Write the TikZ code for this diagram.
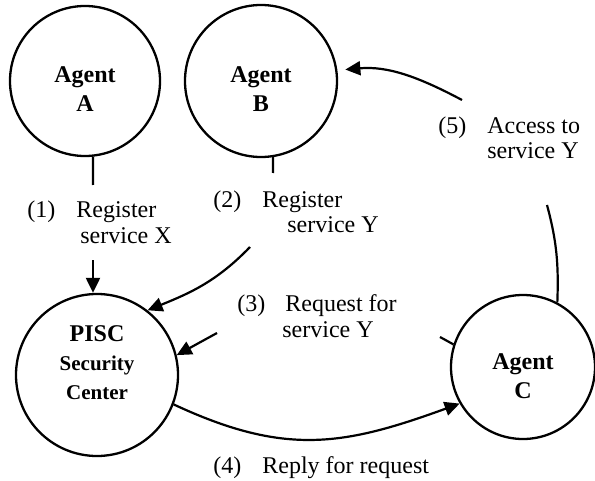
\documentclass[tikz,border=0pt]{standalone}
\usepackage{fontspec}
\setmainfont{Liberation Serif}
\usetikzlibrary{arrows.meta}

\begin{document}
\begin{tikzpicture}[
    x=0.5pt, y=-0.5pt,
    agent/.style={circle, draw, line width=1.15pt, inner sep=0pt, align=center, text height=31pt, text depth=0pt, font={\bfseries\fontsize{12}{14.5}\selectfont}},
    lbl/.style={anchor=base west, inner sep=0pt, align=left, font={\fontsize{12}{13}\selectfont}},
    link/.style={line width=1.1pt},
    arrow/.style={link, -{Triangle[length=7.5pt,width=7pt]}},
]
\useasboundingbox (0,0) rectangle (595,481);

% Agents and the security center
\node[agent, minimum size=75pt] (A) at (85,81)   {Agent\\A};
\node[agent, minimum size=76pt] (B) at (261,81)  {Agent\\B};
\node[agent, minimum size=81pt, text height=24pt] (P) at (97,375) {PISC\\{\fontsize{10.5}{12}\selectfont Security}\\{\fontsize{10.5}{12}\selectfont Center}};
\node[agent, minimum size=72pt] (C) at (523,367) {Agent\\C};

% Gaps in the connectors around the labels
\coordinate (c1a) at (93,185);
\coordinate (c1b) at (93,260);
\coordinate (c2a) at (273,173);
\coordinate (c2b) at (250,247);
\coordinate (c3a) at (440,337);
\coordinate (c3b) at (217,333);
\coordinate (c5a) at (547,205);
\coordinate (c5b) at (462,100);

% (1) and (2): register
\draw[link]  (A.-84) -- (c1a);
\draw[arrow] (c1b) -- (c1b |- P.north);
\draw[link]  (B.-81) -- (c2a);
\draw[arrow] (c2b) to[out=226, in=22] (P.52);

% (3) request, (4) reply
\draw[link]  (C.162) -- (c3a);
\draw[arrow] (c3b) -- (P.14);
\draw[arrow] (P.-21) to[out=-25, in=200, looseness=1.1] (C.210);

% (5) access
\draw[link]  (C.62) to[out=88, in=-75] (c5a);
\draw[arrow, shorten >=4pt] (c5b) to[out=152, in=5] (B.8);

% Labels (anchored on the baseline of the last line)
\node[lbl] (l1) at (27,243)  {\makebox[24.5pt][l]{(1)}Register\\\hspace*{26.5pt}service X};
\node[lbl] (l2) at (213,233) {\makebox[24.5pt][l]{(2)}Register\\\hspace*{37pt}service Y};
\node[lbl] (l3) at (237,337) {\makebox[24pt][l]{(3)}Request for\\\hspace*{22.5pt}service Y};
\node[lbl] (l4) at (213,473) {\makebox[24.5pt][l]{(4)}Reply for request};
\node[lbl] (l5) at (438,159) {\makebox[24.5pt][l]{(5)}Access to\\\hspace*{24.5pt}service Y};

\end{tikzpicture}
\end{document}
